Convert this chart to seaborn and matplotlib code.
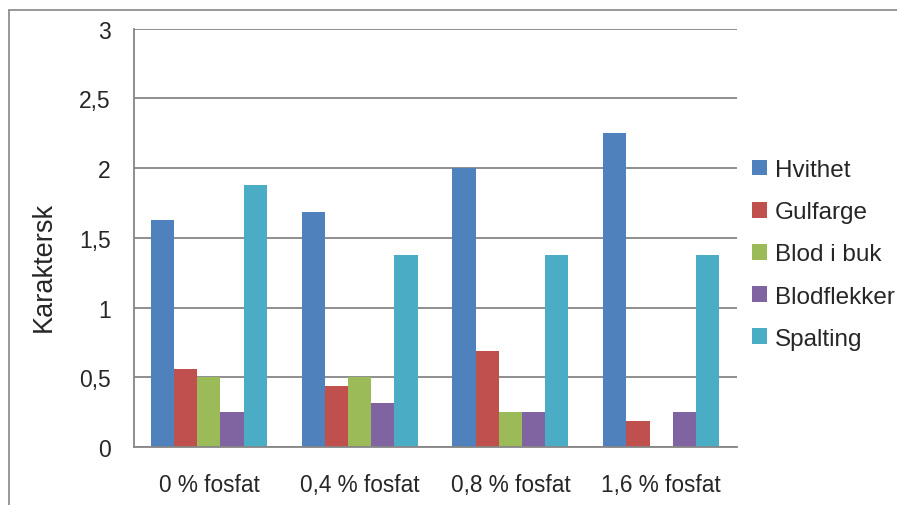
import matplotlib
matplotlib.use("Agg")
import matplotlib.pyplot as plt
import seaborn as sns
import pandas as pd
from matplotlib.lines import Line2D

# data
kategorier = ["0 % fosfat", "0,4 % fosfat", "0,8 % fosfat", "1,6 % fosfat"]
hvithet = [1.625, 1.6875, 2.0, 2.25]
gulfarge = [0.5625, 0.4375, 0.6875, 0.1875]
blod_i_buk = [0.5, 0.5, 0.25, 0.0]
blodflekker = [0.25, 0.3125, 0.25, 0.25]
spalting = [1.875, 1.375, 1.375, 1.375]

serier = ["Hvithet", "Gulfarge", "Blod i buk", "Blodflekker", "Spalting"]
farger = ["#4F81BD", "#C0504D", "#9BBB59", "#8064A2", "#4BACC6"]
y_ticks = [0, 0.5, 1, 1.5, 2, 2.5, 3]
y_labels = ["0", "0,5", "1", "1,5", "2", "2,5", "3"]

# long format table for seaborn
rows = []
for navn, verdier in zip(serier, [hvithet, gulfarge, blod_i_buk, blodflekker, spalting]):
    for kat, v in zip(kategorier, verdier):
        rows.append({"kategori": kat, "egenskap": navn, "verdi": v})
df = pd.DataFrame(rows)

sns.set_style("white")
plt.rcParams["font.family"] = ["Liberation Sans", "DejaVu Sans"]

fig = plt.figure(figsize=(8.97, 5.06), dpi=100)
W, H = 897, 506
ax = fig.add_axes([133.5 / W, (H - 448) / H, (736.5 - 133.5) / W, (448 - 29.5) / H])

sns.barplot(data=df, x="kategori", y="verdi", hue="egenskap", palette=farger,
            hue_order=serier, order=kategorier, width=0.77, saturation=1,
            linewidth=0, ax=ax)

grid = "#868686"
ax.set_ylim(0, 3)
ax.set_xlim(-0.5, 3.5)
ax.set_yticks(y_ticks)
ax.set_yticklabels(y_labels)
ax.yaxis.grid(True, color=grid, linewidth=1.3)
ax.set_axisbelow(True)
for s in ["top", "right"]:
    ax.spines[s].set_visible(False)
for s in ["left", "bottom"]:
    ax.spines[s].set_color(grid)
    ax.spines[s].set_linewidth(1.3)

ax.tick_params(axis="y", length=5.5, width=1.3, color=grid, pad=11, labelsize=16.5, direction="out")
ax.set_xticks([-0.5, 0.5, 1.5, 2.5, 3.5], minor=True)
ax.tick_params(axis="x", which="minor", length=5.5, width=1.3, color=grid, direction="out")
ax.tick_params(axis="x", which="major", length=0, pad=19, labelsize=16.3)
ax.set_xlabel("")
ax.set_ylabel("Karaktersk", fontsize=19.5)
ax.yaxis.set_label_coords(-0.127, 0.4315)

ax.legend(bbox_to_anchor=(1.026, 0.46), loc="center left", frameon=False,
          fontsize=17.5, handlelength=0.62, handleheight=0.62, handletextpad=0.3,
          labelspacing=0.83, borderaxespad=0, borderpad=0)

# chart area border (top and left edges visible)
fig.add_artist(Line2D([8.5 / W, 1], [1 - 10.5 / H, 1 - 10.5 / H], color=grid, linewidth=1.2,
                      transform=fig.transFigure))
fig.add_artist(Line2D([8.5 / W, 8.5 / W], [0, 1 - 10.5 / H], color=grid, linewidth=1.2,
                      transform=fig.transFigure))

fig.savefig("out.png", dpi=100)
